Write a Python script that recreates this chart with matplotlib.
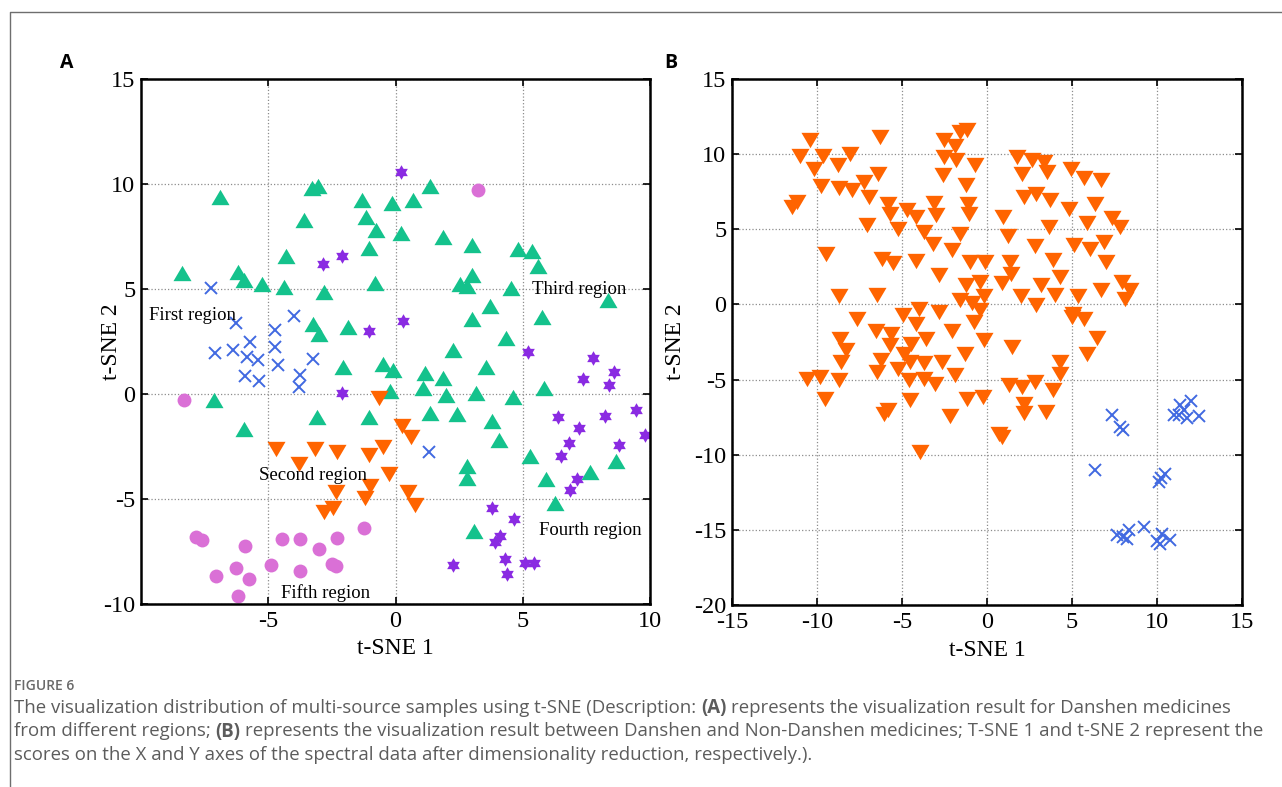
import numpy as np
import matplotlib
matplotlib.use('Agg')
import matplotlib.pyplot as plt
from matplotlib.path import Path
from matplotlib.lines import Line2D
from matplotlib.text import Annotation

plt.rcParams['axes.unicode_minus'] = False

# ---- panel A : five regions ----
a_green = np.array([
    (-8.4, 5.75), (-6.9, 9.4), (-3.3, 9.8), (-3.05, 9.9), (-3.6, 8.3), (-1.3, 9.25),
    (-0.15, 9.1), (-1.15, 8.45), (-0.75, 7.8), (0.2, 7.65), (-1.05, 6.95), (-4.3, 6.55),
    (-6.2, 5.8), (-5.95, 5.45), (-5.25, 5.25), (-4.4, 5.1), (-2.8, 4.85), (-0.8, 5.3),
    (-3.25, 3.35), (-3.0, 2.85), (-1.85, 3.2), (0.7, 9.25), (1.35, 9.9), (1.85, 7.5),
    (3.0, 7.1), (4.8, 6.9), (5.35, 6.8), (5.6, 6.1), (3.0, 5.65), (2.55, 5.25), (2.8, 5.15),
    (4.55, 5.05), (8.35, 4.5), (3.7, 4.2), (3.0, 3.55), (5.75, 3.65), (4.35, 2.65),
    (2.25, 2.1), (3.55, 1.3), (-0.5, 1.45), (-0.1, 1.15), (1.15, 1.0), (1.85, 0.75),
    (1.1, 0.3), (2.0, -0.05), (3.15, 0.05), (4.6, -0.15), (5.85, 0.3), (1.35, -0.9),
    (2.4, -0.95), (3.8, -1.3), (4.05, -2.2), (2.8, -3.45), (2.8, -4.0), (5.3, -2.95),
    (5.9, -4.05), (6.25, -5.2), (7.65, -3.7), (8.65, -3.2), (3.1, -6.5), (-0.2, 0.15),
    (-2.05, 1.3), (-7.15, -0.3), (-5.95, -1.65), (-3.1, -1.1), (-1.05, -1.1)])
a_orange = np.array([
    (-0.65, -0.2), (-4.7, -2.6), (-3.8, -3.35), (-3.15, -2.6), (-2.3, -2.75), (-1.05, -2.9),
    (-0.5, -2.5), (-0.25, -3.8), (0.25, -1.5), (0.6, -2.05), (0.5, -4.65), (0.75, -5.3),
    (-2.35, -4.65), (-1.0, -4.4), (-1.2, -4.95), (-2.8, -5.6), (-2.45, -5.45)])
a_purple = np.array([
    (-2.85, 6.2), (-2.1, 6.55), (-1.05, 3.0), (0.3, 3.5), (0.2, 10.55), (-2.1, 0.05),
    (5.2, 2.0), (7.75, 1.7), (7.35, 0.7), (8.6, 1.05), (8.4, 0.45), (6.4, -1.1),
    (7.2, -1.6), (8.25, -1.05), (9.45, -0.75), (9.8, -1.95), (6.8, -2.35), (6.5, -2.95),
    (8.8, -2.45), (7.15, -4.05), (6.85, -4.55), (3.8, -5.45), (4.65, -5.95), (4.1, -6.75),
    (3.9, -7.05), (4.3, -7.85), (4.4, -8.55), (2.25, -8.15), (5.1, -8.05), (5.45, -8.05)])
a_blue = np.array([
    (-7.25, 5.05), (-6.25, 3.4), (-4.75, 3.05), (-4.0, 3.7), (-7.1, 1.95), (-6.4, 2.1),
    (-5.7, 2.5), (-5.85, 1.75), (-5.4, 1.6), (-4.75, 2.25), (-4.6, 1.4), (-5.9, 0.85),
    (-5.35, 0.6), (-3.25, 1.65), (-3.75, 0.9), (-3.8, 0.35), (1.3, -2.75)])
a_pink = np.array([
    (3.25, 9.7), (-8.3, -0.3), (-7.85, -6.8), (-7.6, -6.95), (-7.05, -8.65), (-6.25, -8.3),
    (-5.9, -7.25), (-5.75, -8.8), (-6.2, -9.6), (-4.9, -8.15), (-4.45, -6.9), (-3.75, -6.9),
    (-3.75, -8.45), (-3.0, -7.4), (-2.5, -8.1), (-2.35, -8.2), (-2.3, -6.85), (-1.25, -6.4)])
a_labels = ['First region', 'Third region', 'Second region', 'Fourth region', 'Fifth region']
a_label_xy = [(-9.7, 3.75), (5.35, 5.0), (-5.35, -3.9), (5.65, -6.5), (-4.5, -9.5)]

# ---- panel B : Danshen vs non-Danshen ----
b_orange = np.array([
    (-11.45, 6.5), (-11.15, 6.8), (-10.98, 9.87), (-10.39, 10.93), (-10.16, 9.04),
    (-9.65, 9.87), (-9.76, 7.87), (-8.76, 9.27), (-8.69, 7.76), (-8.04, 10.0),
    (-7.94, 7.64), (-7.22, 8.16), (-6.96, 7.16), (-6.43, 8.71), (-6.31, 11.11),
    (-7.06, 5.27), (-9.45, 3.38), (-8.73, 0.53), (-6.47, 0.64), (-6.18, 3.04),
    (-5.55, 2.76), (-5.82, 6.67), (-5.69, 6.0), (-5.25, 5.04), (-4.71, 6.27),
    (-4.18, 5.82), (-4.18, 2.89), (-3.73, 4.82), (-3.18, 4.04), (-3.1, 6.76),
    (-2.98, 5.93), (-2.84, 1.93), (-2.61, 8.6), (-2.55, 10.93), (-2.51, 9.82),
    (-1.86, 10.53), (-1.8, 9.6), (-1.61, 11.49), (-1.18, 11.6), (-2.06, 3.64),
    (-1.57, 4.67), (-1.22, 7.93), (-1.12, 6.67), (-1.08, 6.0), (-0.69, 9.27),
    (-0.98, 2.82), (-0.14, 2.82), (-1.22, 1.27), (-0.39, 1.49), (-1.61, 0.27),
    (-0.88, 0.09), (-0.2, 0.53), (-2.84, -0.51), (-4.02, -0.29), (-4.96, -0.73),
    (-4.16, -1.29), (-7.65, -0.96), (-6.51, -1.75), (-5.65, -2.0), (-2.06, -1.8),
    (-0.75, -1.18), (-0.39, -0.4), (-3.6, -2.3),
    (-8.63, -2.27), (-8.27, -3.04), (-8.59, -3.82), (-10.59, -4.93), (-9.8, -4.82),
    (-8.69, -5.04), (-9.51, -6.27), (-5.69, -2.71), (-6.24, -3.71), (-6.47, -4.49),
    (-5.25, -4.27), (-4.9, -3.27), (-4.47, -2.6), (-4.55, -3.82), (-4.61, -5.04),
    (-3.73, -3.93), (-3.73, -4.93), (-3.04, -5.27), (-2.65, -3.82), (-1.86, -4.71),
    (-1.27, -3.27), (-4.55, -6.38), (-6.08, -7.27), (-5.84, -7.04), (-2.16, -7.44),
    (-1.18, -6.27), (-0.24, -6.16), (-3.92, -9.82),
    (1.76, 9.82), (2.06, 8.71), (2.65, 9.64), (3.33, 9.49), (3.53, 8.82), (4.94, 9.04),
    (5.73, 8.38), (6.71, 8.27), (2.16, 7.16), (2.9, 7.38), (3.69, 6.93), (4.8, 6.38),
    (6.37, 6.71), (7.35, 5.78), (7.84, 5.16), (5.88, 5.42), (3.63, 5.16), (0.94, 5.82),
    (1.22, 4.53), (2.84, 3.87), (5.1, 3.93), (6.04, 3.71), (6.9, 4.16), (7.02, 2.82),
    (3.88, 2.98), (1.37, 2.82), (1.41, 2.04), (4.31, 1.82), (0.88, 1.42), (3.18, 1.27),
    (2.0, 0.53), (4.02, 0.6), (5.33, 0.53), (6.71, 0.98), (7.94, 1.49), (8.43, 0.98),
    (8.14, 0.38), (2.9, -0.02), (5.0, -0.84), (5.69, -0.96), (5.06, -0.62),
    (-0.15, -2.35), (1.47, -2.82), (6.45, -2.25), (5.88, -3.31), (4.31, -3.82),
    (4.31, -4.6), (1.27, -5.38), (2.06, -5.49), (2.84, -5.16), (3.88, -5.71),
    (2.16, -6.6), (2.16, -7.22), (3.49, -7.16), (0.69, -8.64), (0.88, -8.82)])
b_blue = np.array([
    (7.35, -7.38), (7.85, -8.15), (8.0, -8.35), (6.37, -11.04), (10.1, -11.8),
    (10.25, -11.55), (10.45, -11.3), (10.98, -7.38), (11.37, -6.71), (11.57, -7.04),
    (12.0, -6.42), (11.76, -7.53), (12.45, -7.44), (11.27, -7.38), (7.65, -15.31),
    (8.24, -15.6), (8.35, -15.04), (8.0, -15.49), (9.22, -14.78), (10.0, -15.71),
    (10.29, -15.27), (10.2, -15.93), (10.78, -15.67)])

caption_lines = [
    [("The visualization distribution of multi-source samples using t-SNE (Description:", 'normal'),
     ("(A)", 'bold'), ("represents the visualization result for Danshen medicines", 'normal')],
    [("from different regions;", 'normal'), ("(B)", 'bold'),
     ("represents the visualization result between Danshen and Non-Danshen medicines; T-SNE 1 and t-SNE 2 represent the", 'normal')],
    [("scores on the X and Y axes of the spectral data after dimensionality reduction, respectively.).", 'normal')],
]

GREEN, ORANGE, PURPLE, BLUE, PINK = '#14c28c', '#ff6400', '#8a2be2', '#4169e1', '#da70d6'
W, H = 1282, 787
serif = 'Liberation Serif'

tri_up = Path([(-1, -0.85), (1, -0.85), (0, 0.85), (-1, -0.85)], closed=True)
tri_dn = Path([(-1, 0.85), (1, 0.85), (0, -0.85), (-1, 0.85)], closed=True)
hexagram = Path.unit_regular_star(6, 0.577)

fig = plt.figure(figsize=(W / 100, H / 100), dpi=100)
axA = fig.add_axes([141 / W, 1 - 604 / H, 509 / W, 525 / H])
axB = fig.add_axes([732 / W, 1 - 605 / H, 510 / W, 526 / H])


def pts(ax, d, marker, color, ms, mew=0):
    if marker == 'x':
        ax.plot(d[:, 0], d[:, 1], ls='none', marker='x', ms=ms, mec=color, mew=mew)
    else:
        ax.plot(d[:, 0], d[:, 1], ls='none', marker=marker, ms=ms, mfc=color, mec=color, mew=0)


pts(axA, a_green, tri_up, GREEN, 13)
pts(axA, a_orange, tri_dn, ORANGE, 13)
pts(axA, a_purple, hexagram, PURPLE, 10.5)
pts(axA, a_pink, 'o', PINK, 10)
pts(axA, a_blue, 'x', BLUE, 8, 1.4)
for s, (x, y) in zip(a_labels, a_label_xy):
    axA.text(x, y, s, family=serif, fontsize=13.5, ha='left', va='center')

pts(axB, b_orange, tri_dn, ORANGE, 13)
pts(axB, b_blue, 'x', BLUE, 9, 1.4)

axA.set_xlim(-10, 10)
axA.set_ylim(-10, 15)
axA.set_xticks([-5, 0, 5, 10])
axA.set_yticks([-10, -5, 0, 5, 10, 15])
axB.set_xlim(-15, 15)
axB.set_ylim(-20, 15)
axB.set_xticks([-15, -10, -5, 0, 5, 10, 15])
axB.set_yticks([-20, -15, -10, -5, 0, 5, 10, 15])

for ax, xlab_y, ylab_x in [(axA, -0.065, -0.037), (axB, -0.066, -0.09)]:
    ax.grid(True, color='#8c8c8c', ls=':', lw=0.9)
    ax.set_axisbelow(True)
    for sp in ax.spines.values():
        sp.set_linewidth(1.8)
    ax.tick_params(direction='in', top=True, right=True, length=5, width=1.2,
                   labelsize=17.5, pad=5)
    ax.tick_params(axis='y', pad=4)
    for lab in ax.get_xticklabels() + ax.get_yticklabels():
        lab.set_family(serif)
    ax.set_xlabel('t-SNE 1', family=serif, fontsize=17)
    ax.set_ylabel('t-SNE 2', family=serif, fontsize=17)
    ax.xaxis.set_label_coords(0.5, xlab_y)
    ax.yaxis.set_label_coords(ylab_x, 0.5)

# panel letters
fig.text(67 / W, 1 - 63 / H, 'A', family='Open Sans', weight='bold', fontsize=14, ha='center', va='center')
fig.text(671 / W, 1 - 63 / H, 'B', family='Open Sans', weight='bold', fontsize=14, ha='center', va='center')

# page frame
fig.add_artist(Line2D([10 / W, 10 / W, 1], [0, 1 - 12 / H, 1 - 12 / H], color='#6e6e6e', lw=1))

# caption
fig.text(14 / W, 1 - 690 / H, 'FIGURE 6', family='Open Sans', weight='semibold',
         fontsize=10, color='#6a6a6a', va='baseline')
cap_color = '#5c5c5c'
for i, parts in enumerate(caption_lines):
    yb = 1 - (713 + 23.5 * i) / H
    prev = None
    for s, w in parts:
        if prev is None:
            prev = fig.text(14 / W, yb, s, family='Open Sans', weight=w, fontsize=13.4,
                            color=cap_color, va='baseline')
        else:
            an = Annotation(s, xy=(1, yb), xycoords=(prev, 'figure fraction'),
                            xytext=(3.5, 0), textcoords='offset points',
                            family='Open Sans', weight=w, fontsize=13.4,
                            color=cap_color, va='baseline', ha='left')
            fig.add_artist(an)
            prev = an

fig.savefig('out.png', dpi=100)
